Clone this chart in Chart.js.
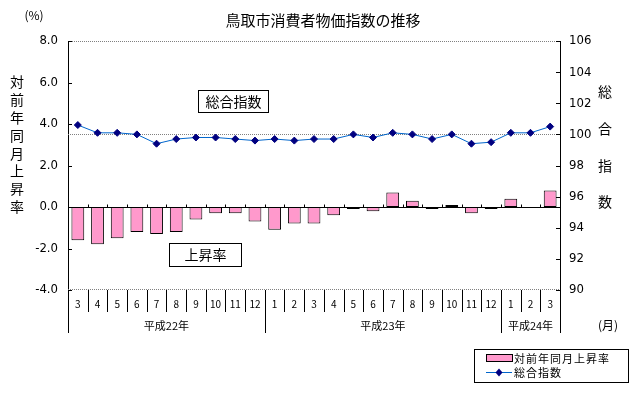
<!DOCTYPE html>
<html>
<head>
<meta charset="utf-8">
<script src="https://cdn.jsdelivr.net/npm/chart.js@4/dist/chart.umd.min.js"></script>
<style>
  html, body { margin: 0; padding: 0; background: #fff; }
  canvas { display: block; }
</style>
</head>
<body>
<canvas id="grafico" width="633" height="395"></canvas>
<script>
// 月（平成22年3月〜平成24年3月）
const meses = ['3','4','5','6','7','8','9','10','11','12',
               '1','2','3','4','5','6','7','8','9','10','11','12',
               '1','2','3']
const anos = ['平成22年', '平成23年', '平成24年']
const mesesPorAno = [10, 12, 3]

// 対前年同月上昇率 (%)
const taxa = [-1.6, -1.8, -1.5, -1.2, -1.3, -1.2, -0.6, -0.3, -0.3, -0.7,
              -1.1, -0.8, -0.8, -0.4, -0.1, -0.2, 0.7, 0.3, -0.1, 0.1, -0.3, -0.1,
              0.4, 0.0, 0.8]
// 総合指数
const indice = [100.6, 100.1, 100.1, 100.0, 99.4, 99.7, 99.8, 99.8, 99.7, 99.6,
                99.7, 99.6, 99.7, 99.7, 100.0, 99.8, 100.1, 100.0, 99.7, 100.0, 99.4, 99.5,
                100.1, 100.1, 100.5]

const ticksEsq = [8, 6, 4, 2, 0, -2, -4]
const ticksDir = [106, 104, 102, 100, 98, 96, 94, 92, 90]

const fonteJp = '"Noto Sans CJK JP", "Noto Sans", sans-serif'
const fonteNum = '"Liberation Sans Narrow", "DejaVu Sans Condensed", "Liberation Sans", sans-serif'

function linha(ctx, x1, y1, x2, y2) {
    ctx.beginPath()
    ctx.moveTo(x1, y1)
    ctx.lineTo(x2, y2)
    ctx.stroke()
}

function textoVertical(ctx, txt, x, y0, passo) {
    for (let i = 0; i < txt.length; i++) {
        ctx.fillText(txt[i], x, y0 + i * passo)
    }
}

const extras = {
    id: 'extras',
    beforeDatasetsDraw(chart) {
        const ctx = chart.ctx
        const a = chart.chartArea
        const y = chart.scales.y
        const y1 = chart.scales.y1
        ctx.save()
        ctx.strokeStyle = '#808080'
        ctx.lineWidth = 1
        ctx.setLineDash([1, 1])
        linha(ctx, a.left, Math.round(y.getPixelForValue(8)) + 0.5, a.right, Math.round(y.getPixelForValue(8)) + 0.5)
        linha(ctx, a.left, Math.round(y1.getPixelForValue(100)) + 0.5, a.right, Math.round(y1.getPixelForValue(100)) + 0.5)
        linha(ctx, a.left, Math.round(y.getPixelForValue(-4)) - 0.5, a.right, Math.round(y.getPixelForValue(-4)) - 0.5)
        ctx.restore()
    },
    afterDraw(chart) {
        const ctx = chart.ctx
        const a = chart.chartArea
        const x = chart.scales.x
        const y = chart.scales.y
        const y1 = chart.scales.y1
        const larg = (a.right - a.left) / meses.length
        ctx.save()
        ctx.strokeStyle = '#000'
        ctx.fillStyle = '#000'
        ctx.lineWidth = 1
        ctx.setLineDash([])

        // 0 line + small ticks
        const y0 = Math.round(y.getPixelForValue(0)) + 0.5
        linha(ctx, a.left, y0, a.right, y0)
        for (let i = 1; i < meses.length; i++) {
            const xb = Math.round(x.getPixelForValue(i) - larg / 2) + 0.5
            linha(ctx, xb, y0 - 3, xb, y0)
        }

        // inner ticks on y axes
        ticksEsq.forEach(v => {
            const py = Math.round(y.getPixelForValue(v)) + 0.5
            linha(ctx, a.left, py, a.left + 4, py)
        })
        ticksDir.forEach(v => {
            const py = Math.round(y1.getPixelForValue(v)) + 0.5
            linha(ctx, a.right - 4, py, a.right, py)
        })

        // month separators + year separators
        const bordas = [0]
        let soma = 0
        mesesPorAno.forEach(n => { soma += n; bordas.push(soma) })
        for (let i = 0; i <= meses.length; i++) {
            const xb = Math.round(a.left + i * larg) + 0.5
            const longo = bordas.includes(i)
            linha(ctx, xb, a.bottom, xb, longo ? 333 : 312)
        }

        // year labels
        ctx.font = '11px ' + fonteJp
        ctx.textAlign = 'center'
        ctx.textBaseline = 'middle'
        for (let k = 0; k < anos.length; k++) {
            const xc = a.left + (bordas[k] + bordas[k + 1]) / 2 * larg
            ctx.fillText(anos[k], xc, 326)
        }

        // title & axis texts
        ctx.font = '15px ' + fonteJp
        ctx.fillText('鳥取市消費者物価指数の推移', 323, 20)
        ctx.font = '12px ' + fonteJp
        ctx.fillText('(%)', 34, 15)
        ctx.fillText('(月)', 608, 325)
        ctx.font = '14px ' + fonteJp
        textoVertical(ctx, '対前年同月上昇率', 17, 82, 17.8)
        textoVertical(ctx, '総合指数', 605, 92, 36.7)

        // annotation boxes
        ctx.strokeRect(198.5, 90.5, 70, 22)
        ctx.fillText('総合指数', 233.5, 101.5)
        ctx.strokeRect(169.5, 243.5, 72, 23)
        ctx.fillText('上昇率', 205.5, 255)

        // legend
        ctx.strokeRect(474.5, 349.5, 154, 33)
        ctx.fillStyle = '#FF99CC'
        ctx.fillRect(487, 355, 25, 6)
        ctx.strokeRect(486.5, 354.5, 26, 7)
        ctx.strokeStyle = '#0066CC'
        linha(ctx, 486, 372.5, 512, 372.5)
        ctx.fillStyle = '#000080'
        ctx.beginPath()
        ctx.moveTo(499, 368.5); ctx.lineTo(502.5, 372.5); ctx.lineTo(499, 376.5); ctx.lineTo(495.5, 372.5)
        ctx.closePath()
        ctx.fill()
        ctx.fillStyle = '#000'
        ctx.font = '11px ' + fonteJp
        ctx.textAlign = 'left'
        ctx.letterSpacing = '1px'
        ctx.fillText(chart.data.datasets[1].label, 514, 358.5)
        ctx.fillText(chart.data.datasets[0].label, 514, 372.5)
        ctx.restore()
    }
}

const config = {
    data: {
        labels: meses,
        datasets: [
            {
                type: 'line',
                label: '総合指数',
                data: indice,
                yAxisID: 'y1',
                borderColor: '#0066CC',
                borderWidth: 1,
                pointStyle: 'rectRot',
                pointRadius: 3.5,
                pointBackgroundColor: '#000080',
                pointBorderColor: '#000080',
                pointBorderWidth: 1,
                order: 0
            },
            {
                type: 'bar',
                label: '対前年同月上昇率',
                data: taxa,
                yAxisID: 'y',
                backgroundColor: '#FF99CC',
                borderColor: '#000',
                borderWidth: 1,
                borderSkipped: false,
                categoryPercentage: 1,
                barPercentage: 0.65,
                order: 1
            }
        ]
    },
    options: {
        responsive: false,
        animation: false,
        devicePixelRatio: 1,
        layout: { padding: { top: 41, left: 0, right: 0, bottom: 0 } },
        plugins: {
            legend: { display: false },
            tooltip: { enabled: false }
        },
        scales: {
            x: {
                grid: { display: false },
                border: { display: false },
                ticks: {
                    color: '#000',
                    font: { family: fonteJp, size: 10 },
                    padding: 0,
                    maxRotation: 0,
                    autoSkip: false
                },
                afterFit: (s) => { s.height = 105 }
            },
            y: {
                position: 'left',
                min: -4,
                max: 8,
                grid: { display: false, drawTicks: false },
                border: { display: true, color: '#000', width: 1 },
                ticks: {
                    stepSize: 2,
                    color: '#000',
                    padding: 10,
                    font: { family: fonteNum, size: 13 },
                    callback: (v) => v.toFixed(1)
                },
                afterFit: (s) => { s.width = 68 }
            },
            y1: {
                position: 'right',
                min: 90,
                max: 106,
                grid: { display: false, drawTicks: false },
                border: { display: true, color: '#000', width: 1 },
                ticks: {
                    stepSize: 2,
                    color: '#000',
                    padding: 9,
                    font: { family: fonteNum, size: 13 }
                },
                afterFit: (s) => { s.width = 73 }
            }
        }
    },
    plugins: [extras]
}

const grafico = new Chart(document.getElementById('grafico').getContext('2d'), config)
</script>
</body>
</html>
